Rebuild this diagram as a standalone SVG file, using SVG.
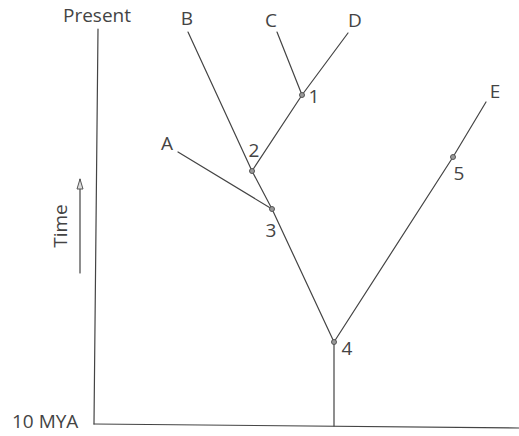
<svg xmlns="http://www.w3.org/2000/svg" width="519" height="436" viewBox="0 0 519 436">
<style>
.ln{stroke:#444;stroke-width:1.2;fill:none;stroke-linecap:round}
.nd{fill:#999;stroke:#555;stroke-width:1}
.t{font-family:"Open Sans","Liberation Sans",sans-serif;font-size:19px;fill:#444}
.lb{font-family:"Open Sans","Liberation Sans",sans-serif;font-size:19px;fill:#444;text-anchor:middle}
</style>
<defs>
<marker id="arr" markerWidth="12" markerHeight="8" refX="11" refY="4" orient="auto" markerUnits="userSpaceOnUse" viewBox="0 0 12 8">
<path d="M11,4 L1,1 L1,7 Z" fill="#ddd" stroke="#555" stroke-width="1"/>
</marker>
</defs>
<rect width="519" height="436" fill="#fff"/>
<g id="axes">
<line class="ln" x1="98" y1="29" x2="94" y2="424"/>
<line class="ln" x1="94" y1="424" x2="519" y2="428"/>
<text class="t" x="63" y="22">Present</text>
<text class="t" x="12" y="428">10 MYA</text>
<text class="t" text-anchor="middle" transform="translate(67,226) rotate(-90)">Time</text>
<line class="ln" x1="80" y1="273" x2="80" y2="179" marker-end="url(#arr)"/>
</g>
<g id="connectors">
<line class="ln" x1="334" y1="426" x2="334" y2="342"/>
<line class="ln" x1="334" y1="342" x2="272" y2="209"/>
<line class="ln" x1="272" y1="209" x2="252" y2="171"/>
<line class="ln" x1="252" y1="171" x2="188" y2="32"/>
<line class="ln" x1="272" y1="209" x2="178" y2="152"/>
<line class="ln" x1="252" y1="171" x2="302" y2="95"/>
<line class="ln" x1="302" y1="95" x2="277" y2="32"/>
<line class="ln" x1="302" y1="95" x2="348" y2="33"/>
<line class="ln" x1="334" y1="342" x2="453" y2="157"/>
<line class="ln" x1="453" y1="157" x2="486" y2="102"/>
</g>
<g id="node1"><circle class="nd" cx="302" cy="95" r="2.5"/><text class="lb" x="314" y="103">1</text></g>
<g id="node2"><circle class="nd" cx="252" cy="171" r="2.5"/><text class="lb" x="254" y="157">2</text></g>
<g id="node3"><circle class="nd" cx="272" cy="209" r="2.5"/><text class="lb" x="271" y="237">3</text></g>
<g id="node4"><circle class="nd" cx="334" cy="342" r="2.5"/><text class="lb" x="347" y="355">4</text></g>
<g id="node5"><circle class="nd" cx="453" cy="157" r="2.5"/><text class="lb" x="459" y="180">5</text></g>
<g id="leafA"><text class="lb" x="167" y="150">A</text></g>
<g id="leafB"><text class="lb" x="187" y="25">B</text></g>
<g id="leafC"><text class="lb" x="271" y="27">C</text></g>
<g id="leafD"><text class="lb" x="355" y="27">D</text></g>
<g id="leafE"><text class="lb" x="495" y="98">E</text></g>
</svg>
